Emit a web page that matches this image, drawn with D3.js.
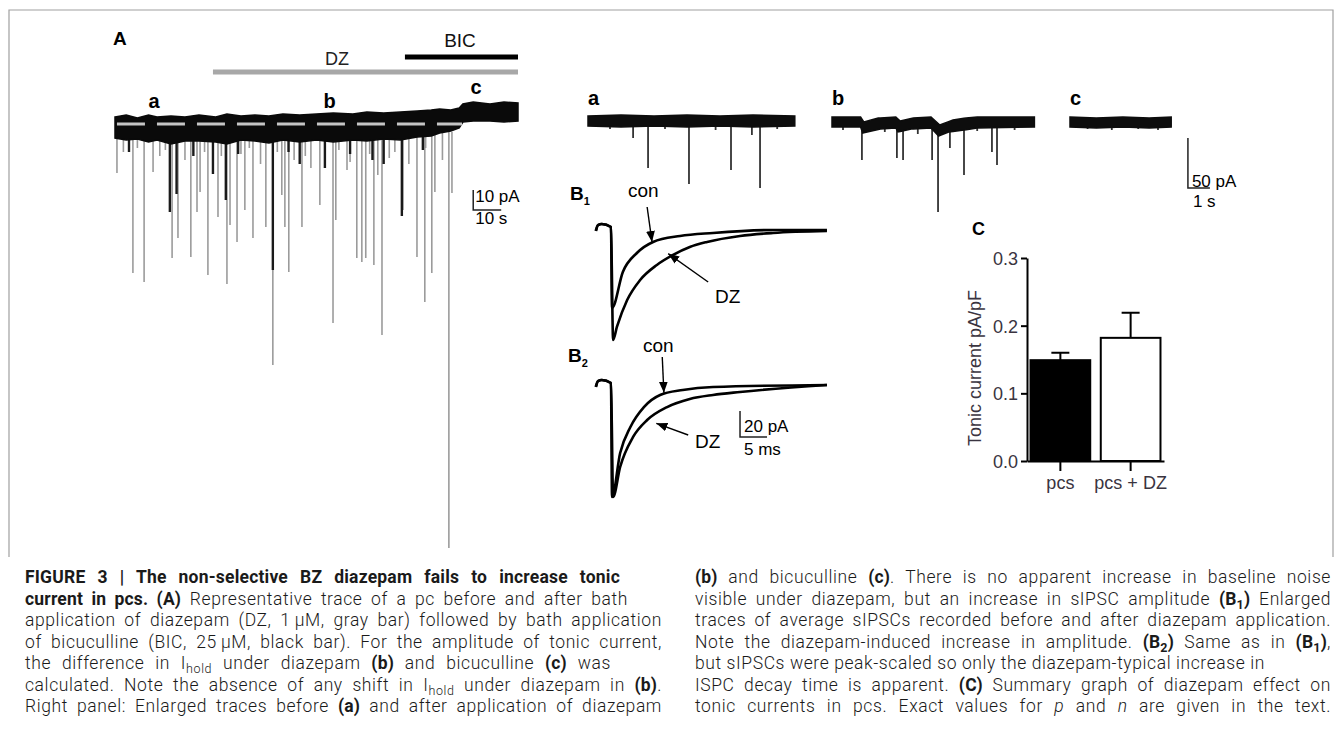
<!DOCTYPE html>
<html>
<head>
<meta charset="utf-8">
<script src="https://cdnjs.cloudflare.com/ajax/libs/d3/7.8.5/d3.min.js"></script>
<style>
body { margin: 0; background: #fff; }
text { font-family: "Liberation Sans", Arial, sans-serif; }
.cap { font-family: Roboto, "Liberation Sans", sans-serif; font-weight: 300; }
</style>
</head>
<body>
<script>

// ---- panel A: long recording (time in s, current in pA, 0 = baseline) ----
var aBand = [  // [t, upper edge, lower edge]
	[0, 3.5, -7], [4, 4.5, -8], [8, 3, -7.5], [12, 4.5, -9], [15, 3.5, -8], [20, 4, -10],
	[25, 3.5, -8.5], [30, 4.5, -8.5], [36, 3.5, -9], [40, 5, -10], [45, 4, -8], [50, 4.5, -8.5],
	[55, 4, -9.5], [60, 5, -8], [66, 4.5, -9], [72, 5, -8], [78, 5.5, -9], [85, 5, -8],
	[90, 6, -8.5], [96, 5.5, -7.5], [102, 6, -8], [108, 6.5, -6.5], [113, 7, -6],
	[116, 7.5, -4.5], [120, 7, -3.5], [123, 8, -2],
	[124.3, 10, 1], [128, 11, 1.5], [134, 10, 1.5], [139, 11, 1], [144, 10.5, 1.5]
];
var aEvents = [  // gray sIPSCs [t, amplitude]
	[0.7, 24.5], [6.4, 74.5], [10.4, 79], [13.6, 24], [20.4, 67], [22.5, 57], [27.1, 66.5],
	[29.3, 44], [30.4, 34], [33.2, 75.5], [36.8, 46.5], [40, 80], [41.1, 50.5], [43.6, 59],
	[46.4, 43], [49.3, 57], [53.9, 51.5], [56.4, 120.5], [59.6, 35.5], [60.7, 51.5], [62.1, 74],
	[66.8, 51.5], [73.2, 40.5], [77.9, 99.5], [78.9, 48], [82.9, 23], [86.4, 67], [88.2, 69],
	[89.6, 67], [92.5, 70.5], [93.9, 25.5], [95.4, 105.5], [102.9, 43], [107.9, 66.5],
	[110.7, 89], [113.2, 74.5], [114.3, 34], [119.3, 212], [120.4, 34.5],
	[3, 14], [16, 16], [25, 18], [45, 15], [52, 20], [64, 18], [70, 22], [75, 15],
	[84, 19], [98, 17], [105, 20], [117, 18], [8, 12], [18, 13], [32, 14], [38, 16],
	[48, 12], [58, 14], [68, 16], [80, 13], [91, 15], [100, 14], [111, 12]
];
var aBlack = [  // dark overlapping events [t, amplitude]
	[19.6, 44], [22, 35], [35, 25], [39.6, 38], [56.4, 73], [66, 20], [75, 22],
	[92, 18], [96, 20], [102.5, 46], [5, 14], [28, 16], [44, 15], [62, 14], [84, 15], [110, 13]
];
var dzRange = [35, 144];
var bicRange = [103.6, 144];
var aMarks = [["a", 12], ["b", 74.5], ["c", 127]];

// ---- right panels: enlarged traces (time in s, current in pA) ----
var trA = {
	name: "a", dur: 9.4,
	upper: [[0, 5], [1.5, 6], [3, 5], [4.5, 6], [6, 5], [7.5, 6], [9.4, 5]],
	lower: [[0, -5], [1.5, -6], [3, -5], [4.5, -6], [6, -5], [7.5, -6], [9.4, -5]],
	events: [[1.0, 8], [2.05, 17], [2.73, 47], [3.5, 8], [4.59, 63], [5.8, 9], [6.5, 49],
		[7.45, 14], [7.82, 67], [8.6, 8]]
};
var trB = {
	name: "b", dur: 9.2,
	upper: [[0, 5], [1.3, 5], [1.45, 0], [2.1, 4], [2.9, 5], [3.1, 1], [3.7, 4], [4.5, 5],
		[4.9, -3], [5.5, 2], [6.1, 4], [6.6, 5], [9.2, 5]],
	lower: [[0, -5], [1.3, -5], [1.4, -11], [2.2, -7], [2.9, -6], [3.0, -10], [3.6, -7],
		[4.5, -6], [4.85, -14], [5.3, -10], [6.0, -8], [6.6, -6], [9.2, -5]],
	events: [[0.5, 8], [1.36, 38], [2.4, 10], [2.95, 36], [3.23, 38], [3.9, 12], [4.55, 38],
		[4.82, 90], [5.36, 26], [6.0, 53], [6.6, 9], [7.27, 30], [7.5, 43], [8.3, 8]]
};
var trC = {
	name: "c", dur: 4.6,
	upper: [[0, 5], [1.2, 4], [2.4, 5], [3.6, 4], [4.6, 5]],
	lower: [[0, -5], [1.2, -6], [2.4, -5], [3.6, -6], [4.6, -5]],
	events: [[0.8, 7], [1.9, 8], [3.1, 7], [4.0, 8]]
};

// ---- B1 / B2: averaged sIPSCs (time in ms, current in pA) ----
var hook = [[-0.4, -3], [0, 1.5], [0.7, 2.3], [2.4, 0]];
var b1Con = [[2.6, -62.3], [4.6, -34.6], [7.2, -20], [10.2, -11.5], [15.2, -6.9], [21.3, -4.6], [32.4, -2.3], [42.4, -2.3]];
var b1Dz = [[2.8, -86.9], [3.5, -76.9], [5.4, -56.2], [7.8, -40.8], [10.9, -29.2], [13.9, -21.5], [17, -15.4],
	[20.2, -11.5], [26.3, -6.9], [32.4, -4.6], [42.4, -3.1]];
var b2Con = [[2.6, -87.7], [4.1, -53.8], [6, -33.8], [8.5, -18.5], [11.5, -9.2], [15.7, -5.4], [21.3, -3.1], [42.4, -1.5]];
var b2Dz = [[2.8, -87.7], [4.1, -64.6], [6.5, -41.5], [9.1, -28.5], [12.8, -18.5], [17, -12.3], [21.3, -9.2],
	[26.3, -6.9], [42.4, -1.5]];

// ---- C: summary bar graph ----
var groups = ["pcs", "pcs + DZ"];
var tonic = [0.149, 0.182];
var tonicSem = [0.011, 0.037];
var yTicks = [0, 0.1, 0.2, 0.3];

// ---- caption (*bold*, _italic_, ~subscript~), second value = justified width ----
var capLeft = [
	["*FIGURE 3 | The non-selective BZ diazepam fails to increase tonic*", 595],
	["*current in pcs. (A)* Representative trace of a pc before and after bath", 603],
	["application of diazepam (DZ, 1\u2009\u03bcM, gray bar) followed by bath application", 637],
	["of bicuculline (BIC, 25\u2009\u03bcM, black bar). For the amplitude of tonic current,", 637],
	["the difference in I~hold~ under diazepam *(b)* and bicuculline *(c)* was", 586],
	["calculated. Note the absence of any shift in I~hold~ under diazepam in *(b)*.", 637],
	["Right panel: Enlarged traces before *(a)* and after application of diazepam", 637]
];
var capRight = [
	["*(b)* and bicuculline *(c)*. There is no apparent increase in baseline noise", 636],
	["visible under diazepam, but an increase in sIPSC amplitude *(B~1~)* Enlarged", 636],
	["traces of average sIPSCs recorded before and after diazepam application.", 636],
	["Note the diazepam-induced increase in amplitude. *(B~2~)* Same as in *(B~1~)*,", 636],
	["but sIPSCs were peak-scaled so only the diazepam-typical increase in", 570],
	["ISPC decay time is apparent. *(C)* Summary graph of diazepam effect on", 636],
	["tonic currents in pcs. Exact values for _p_ and _n_ are given in the text.", 636]
];

var W = 1342, H = 748;
var svg = d3.select("body").append("svg")
	.attr("width", W)
	.attr("height", H);

svg.append("defs").append("marker")
	.attr("id", "ah")
	.attr("viewBox", "0 0 10 8")
	.attr("refX", 10).attr("refY", 4)
	.attr("markerWidth", 11).attr("markerHeight", 9)
	.attr("markerUnits", "userSpaceOnUse")
	.attr("orient", "auto")
	.append("path").attr("d", "M0,0L10,4L0,8z").attr("fill", "#000");

// frame
svg.append("path")
	.attr("d", "M9,557V10H1333V557")
	.attr("fill", "none")
	.attr("stroke", "#a0a0a0")
	.attr("stroke-width", 1.2);

// ================= panel A =================
var xA = d3.scaleLinear().domain([0, 144]).range([115, 518]);
var yA = d3.scaleLinear().domain([0, -10]).range([124, 144]);

svg.append("text").attr("x", 113).attr("y", 45)
	.attr("font-size", 19).attr("font-weight", "bold").text("A");

svg.append("line")
	.attr("x1", xA(dzRange[0])).attr("x2", xA(dzRange[1]))
	.attr("y1", 72).attr("y2", 72)
	.attr("stroke", "#a8a8a8").attr("stroke-width", 5);
svg.append("text").attr("x", 337).attr("y", 65).attr("text-anchor", "middle")
	.attr("font-size", 18).attr("fill", "#222").text("DZ");

svg.append("line")
	.attr("x1", xA(bicRange[0])).attr("x2", xA(bicRange[1]))
	.attr("y1", 57).attr("y2", 57)
	.attr("stroke", "#000").attr("stroke-width", 5);
svg.append("text").attr("x", 460).attr("y", 47).attr("text-anchor", "middle")
	.attr("font-size", 19).attr("fill", "#111").text("BIC");

svg.selectAll(".mA")
	.data(aMarks)
	.enter()
	.append("text")
	.attr("class", "mA")
	.attr("x", function(d) { return xA(d[1]); })
	.attr("y", function(d) { return d[0] == "c" ? 94 : 108; })
	.attr("font-size", 20)
	.attr("font-weight", "bold")
	.text(function(d) { return d[0]; });

svg.selectAll(".evA")
	.data(aEvents)
	.enter()
	.append("line")
	.attr("class", "evA")
	.attr("x1", function(d) { return xA(d[0]); })
	.attr("x2", function(d) { return xA(d[0]); })
	.attr("y1", yA(-4))
	.attr("y2", function(d) { return yA(-d[1]); })
	.attr("stroke", "#9b9b9b")
	.attr("stroke-width", 1.6);

svg.selectAll(".evAb")
	.data(aBlack)
	.enter()
	.append("line")
	.attr("class", "evAb")
	.attr("x1", function(d) { return xA(d[0]); })
	.attr("x2", function(d) { return xA(d[0]); })
	.attr("y1", yA(-4))
	.attr("y2", function(d) { return yA(-d[1]); })
	.attr("stroke", "#1a1a1a")
	.attr("stroke-width", 2.4);

svg.append("path")
	.datum(aBand)
	.attr("d", d3.area()
		.x(function(d) { return xA(d[0]); })
		.y0(function(d) { return yA(d[2]); })
		.y1(function(d) { return yA(d[1]); }))
	.attr("fill", "#0a0a0a")
	.attr("stroke", "#0a0a0a")
	.attr("stroke-width", 1.5);

svg.append("line")
	.attr("x1", xA(0.7)).attr("x2", xA(124))
	.attr("y1", yA(0)).attr("y2", yA(0))
	.attr("stroke", "#c4c4c4")
	.attr("stroke-width", 3)
	.attr("stroke-dasharray", "28,12");

// scale bar A: 10 pA / 10 s
svg.append("path")
	.attr("d", "M" + xA(128) + "," + yA(-33) + "V" + yA(-43) + "H" + xA(138))
	.attr("fill", "none").attr("stroke", "#222").attr("stroke-width", 1.5);
svg.append("text").attr("x", xA(128) + 2).attr("y", 202).attr("font-size", 17).text("10 pA");
svg.append("text").attr("x", xA(128) + 2).attr("y", 224).attr("font-size", 17).text("10 s");

// ================= enlarged traces =================
function drawTrace(tr, x0, y0) {
	var x = d3.scaleLinear().domain([0, 1]).range([x0, x0 + 22]);
	var y = d3.scaleLinear().domain([0, -1]).range([y0, y0 + 1]);
	var g = svg.append("g");
	g.selectAll("line")
		.data(tr.events)
		.enter()
		.append("line")
		.attr("x1", function(d) { return x(d[0]); })
		.attr("x2", function(d) { return x(d[0]); })
		.attr("y1", y(-4))
		.attr("y2", function(d) { return y(-d[1]); })
		.attr("stroke", "#333")
		.attr("stroke-width", 1.8);
	var up = d3.scaleLinear().domain(tr.upper.map(function(u) { return u[0]; }))
		.range(tr.upper.map(function(u) { return u[1]; }));
	var lo = d3.scaleLinear().domain(tr.lower.map(function(d) { return d[0]; }))
		.range(tr.lower.map(function(d) { return d[1]; }));
	var ts = tr.upper.map(function(d) { return d[0]; })
		.concat(tr.lower.map(function(d) { return d[0]; }))
		.sort(function(a, b) { return a - b; });
	g.append("path")
		.datum(ts)
		.attr("d", d3.area()
			.x(function(t) { return x(t); })
			.y0(function(t) { return y(lo(t)); })
			.y1(function(t) { return y(up(t)); }))
		.attr("fill", "#0d0d0d")
		.attr("stroke", "#0d0d0d")
		.attr("stroke-width", 1.5);
	g.append("text")
		.attr("x", x0).attr("y", 105)
		.attr("font-size", 20).attr("font-weight", "bold")
		.text(tr.name);
	return x;
}
drawTrace(trA, 588, 121);
drawTrace(trB, 832, 122);
var xC = drawTrace(trC, 1070, 122);

// scale bar: 50 pA / 1 s
svg.append("path")
	.attr("d", "M" + xC(5.36) + ",138V188H" + xC(6.36))
	.attr("fill", "none").attr("stroke", "#222").attr("stroke-width", 1.5);
svg.append("text").attr("x", xC(5.36) + 4).attr("y", 187).attr("font-size", 17).text("50 pA");
svg.append("text").attr("x", xC(5.36) + 5).attr("y", 207).attr("font-size", 17).text("1 s");

// ================= B1 / B2 =================
var xB = d3.scaleLinear().domain([0, 5]).range([598, 625]);
function yB(base) {
	return d3.scaleLinear().domain([0, -20]).range([base, base + 26]);
}
var yB1 = yB(227), yB2 = yB(383);

function drawAvg(data, ys) {
	svg.append("path")
		.datum(hook.concat(data))
		.attr("d", d3.line()
			.x(function(d) { return xB(d[0]); })
			.y(function(d) { return ys(d[1]); })
			.curve(d3.curveMonotoneX))
		.attr("fill", "none")
		.attr("stroke", "#000")
		.attr("stroke-width", 2.6);
}
drawAvg(b1Con, yB1);
drawAvg(b1Dz, yB1);
drawAvg(b2Con, yB2);
drawAvg(b2Dz, yB2);

function arrow(ys, from, to) {
	svg.append("line")
		.attr("x1", xB(from[0])).attr("y1", ys(from[1]))
		.attr("x2", xB(to[0])).attr("y2", ys(to[1]))
		.attr("stroke", "#000").attr("stroke-width", 1.4)
		.attr("marker-end", "url(#ah)");
}
arrow(yB1, [9.1, 15.4], [10.0, -11.5]);
arrow(yB1, [20.4, -42.3], [13, -20.5]);
arrow(yB2, [11.9, 20], [12.2, -7.5]);
arrow(yB2, [16.7, -40], [10.8, -31]);

function label(x, y, t) {
	svg.append("text").attr("x", x).attr("y", y).attr("font-size", 19).text(t);
}
label(628, 197, "con");
label(715, 303, "DZ");
label(643, 352, "con");
label(695, 448, "DZ");

function panelSub(x, y, main, sub) {
	var t = svg.append("text").attr("x", x).attr("y", y)
		.attr("font-size", 19).attr("font-weight", "bold");
	t.append("tspan").text(main);
	t.append("tspan").attr("dy", 5).attr("font-size", 11).text(sub);
}
panelSub(570, 200, "B", "1");
panelSub(568, 362, "B", "2");

// scale bar: 20 pA / 5 ms
svg.append("path")
	.attr("d", "M" + xB(26.3) + "," + yB2(-21.5) + "V" + yB2(-41.5) + "H" + xB(31.3))
	.attr("fill", "none").attr("stroke", "#222").attr("stroke-width", 1.5);
svg.append("text").attr("x", xB(26.3) + 4).attr("y", 432).attr("font-size", 17).text("20 pA");
svg.append("text").attr("x", xB(26.3) + 4).attr("y", 455).attr("font-size", 17).text("5 ms");

// ================= C =================
var x = d3.scaleBand().domain(groups).range([1027, 1164]).paddingInner(0.15).paddingOuter(0.05);
var y = d3.scaleLinear().domain([0, 0.3]).range([461, 258]);

svg.append("text").attr("x", 972).attr("y", 235)
	.attr("font-size", 18).attr("font-weight", "bold").text("C");

var gc = svg.append("g");
gc.selectAll("rect")
	.data(groups)
	.enter()
	.append("rect")
	.attr("x", function(d) { return x(d); })
	.attr("y", function(d, i) { return y(tonic[i]); })
	.attr("width", x.bandwidth())
	.attr("height", function(d, i) { return y(0) - y(tonic[i]); })
	.attr("fill", function(d, i) { return i == 0 ? "#000" : "#fff"; })
	.attr("stroke", "#000")
	.attr("stroke-width", 2);

gc.selectAll(".err")
	.data(groups)
	.enter()
	.append("path")
	.attr("class", "err")
	.attr("d", function(d, i) {
		var cx = x(d) + x.bandwidth() / 2;
		var top = y(tonic[i] + tonicSem[i]);
		return "M" + cx + "," + y(tonic[i]) + "V" + top + "M" + (cx - 9) + "," + top + "H" + (cx + 9);
	})
	.attr("fill", "none")
	.attr("stroke", "#000")
	.attr("stroke-width", 2);

var yAxis = gc.append("g")
	.attr("transform", "translate(1027,0)")
	.call(d3.axisLeft(y).tickValues(yTicks).tickFormat(d3.format(".1f")).tickSize(6).tickSizeOuter(0));
var xAxis = gc.append("g")
	.attr("transform", "translate(0,461)")
	.call(d3.axisBottom(x).tickSize(10).tickSizeOuter(0).tickPadding(5));
[yAxis, xAxis].forEach(function(a) {
	a.select(".domain").attr("stroke", "#000").attr("stroke-width", 2);
	a.selectAll(".tick line").attr("stroke", "#000").attr("stroke-width", 2);
	a.selectAll(".tick text")
		.attr("font-family", "Liberation Sans, Arial, sans-serif")
		.attr("font-size", 18)
		.attr("fill", "#3a3440");
});
yAxis.selectAll(".tick text").attr("dy", "0.36em");

gc.append("text")
	.attr("transform", "translate(981,368) rotate(-90)")
	.attr("text-anchor", "middle")
	.attr("font-size", 18)
	.attr("fill", "#3a3440")
	.text("Tonic current pA/pF");

// ================= caption =================
function parseLine(s) {
	var segs = [], cur = "", b = false, it = false, sub = false;
	for (var k = 0; k < s.length; k++) {
		var ch = s[k];
		if (ch == "*" || ch == "_" || ch == "~") {
			if (cur) segs.push({ t: cur, b: b, i: it, sub: sub });
			cur = "";
			if (ch == "*") b = !b; else if (ch == "_") it = !it; else sub = !sub;
		} else cur += ch;
	}
	if (cur) segs.push({ t: cur, b: b, i: it, sub: sub });
	return segs;
}

function caption(lines, x0) {
	lines.forEach(function(l, n) {
		var t = svg.append("text")
			.attr("class", "cap")
			.attr("x", x0)
			.attr("y", 583 + n * 21.5)
			.attr("font-size", 17.5)
			.attr("letter-spacing", 0.6)
			.attr("fill", "#1a1a1a")
			.style("white-space", "pre");
		var wasSub = false;
		parseLine(l[0]).forEach(function(s) {
			var sp = t.append("tspan").text(s.t);
			if (s.b) sp.attr("font-weight", 700).attr("letter-spacing", 0.2);
			if (s.i) sp.attr("font-style", "italic");
			if (s.sub) sp.attr("font-size", 12.5).attr("dy", 4);
			else if (wasSub) sp.attr("dy", -4);
			wasSub = s.sub;
		});
		// justify by widening the word gaps
		var natural = t.node().getComputedTextLength();
		var gaps = l[0].split(" ").length - 1;
		if (gaps > 0 && l[1] > natural) t.attr("word-spacing", (l[1] - natural) / gaps);
		else if (natural > l[1]) t.attr("textLength", l[1]).attr("lengthAdjust", "spacing");
	});
}
caption(capLeft, 25);
caption(capRight, 695);

</script>
</body>
</html>
